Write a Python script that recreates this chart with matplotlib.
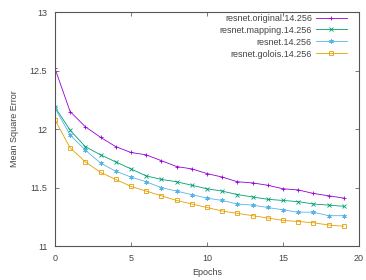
import matplotlib
matplotlib.use("Agg")
import matplotlib.pyplot as plt
import numpy as np

epochs = np.arange(20)

original = [12.52, 12.15, 12.02, 11.93, 11.85, 11.80, 11.78, 11.73, 11.68, 11.66,
            11.62, 11.59, 11.55, 11.54, 11.52, 11.49, 11.48, 11.45, 11.43, 11.41]
mapping = [12.19, 11.99, 11.85, 11.78, 11.72, 11.66, 11.60, 11.57, 11.55, 11.52,
           11.49, 11.47, 11.44, 11.42, 11.40, 11.39, 11.38, 11.36, 11.35, 11.34]
resnet = [12.18, 11.95, 11.82, 11.71, 11.64, 11.59, 11.55, 11.50, 11.47, 11.44,
          11.41, 11.39, 11.36, 11.35, 11.33, 11.31, 11.29, 11.29, 11.26, 11.26]
golois = [12.08, 11.84, 11.72, 11.63, 11.57, 11.51, 11.47, 11.43, 11.39, 11.36,
          11.33, 11.30, 11.28, 11.26, 11.24, 11.22, 11.21, 11.20, 11.18, 11.17]

labels = ["resnet.original.14.256", "resnet.mapping.14.256",
          "resnet.14.256", "resnet.golois.14.256"]

plt.rcParams['font.family'] = ['Liberation Sans', 'DejaVu Sans']
plt.rcParams['font.size'] = 6.5

fig = plt.figure(figsize=(3.66, 2.8), dpi=100)
ax = fig.add_axes([0.150, 0.121, 0.831, 0.836])

# gnuplot-like default palette, thin lines and small points
ax.plot(epochs, original, color='#9400d3', marker='+', ms=3.5, mew=0.6, lw=0.6, label=labels[0])
ax.plot(epochs, mapping, color='#009e73', marker='x', ms=2.8, mew=0.6, lw=0.6, label=labels[1])
ax.plot(epochs, resnet, color='#56b4e9', marker=(6, 2, 0), ms=3.2, mew=0.6, lw=0.6, label=labels[2])
ax.plot(epochs, golois, color='#e69f00', marker='s', ms=2.8, mfc='none', mew=0.6, lw=0.6, label=labels[3])

ax.set_xlim(0, 20)
ax.set_ylim(11, 13)
ax.set_xticks([0, 5, 10, 15, 20])
ax.set_yticks([11, 11.5, 12, 12.5, 13])
ax.set_yticklabels(['11', '11.5', '12', '12.5', '13'])
ax.tick_params(direction='in', top=True, right=True, length=3, width=0.5,
               colors='#444444', labelcolor='#444444', pad=5.5)
for s in ax.spines.values():
    s.set_color('#555555')
    s.set_linewidth(0.8)

ax.set_xlabel('Epochs', color='#444444', labelpad=4)
ax.set_ylabel('Mean Square Error', color='#444444', labelpad=8)

ax.legend(loc='upper right', frameon=False, markerfirst=False, handlelength=3.4,
          labelspacing=0.33, borderaxespad=0.3, handletextpad=0.45,
          bbox_to_anchor=(0.98, 1.02), labelcolor='#444444')

fig.savefig('out.png', dpi=100)
